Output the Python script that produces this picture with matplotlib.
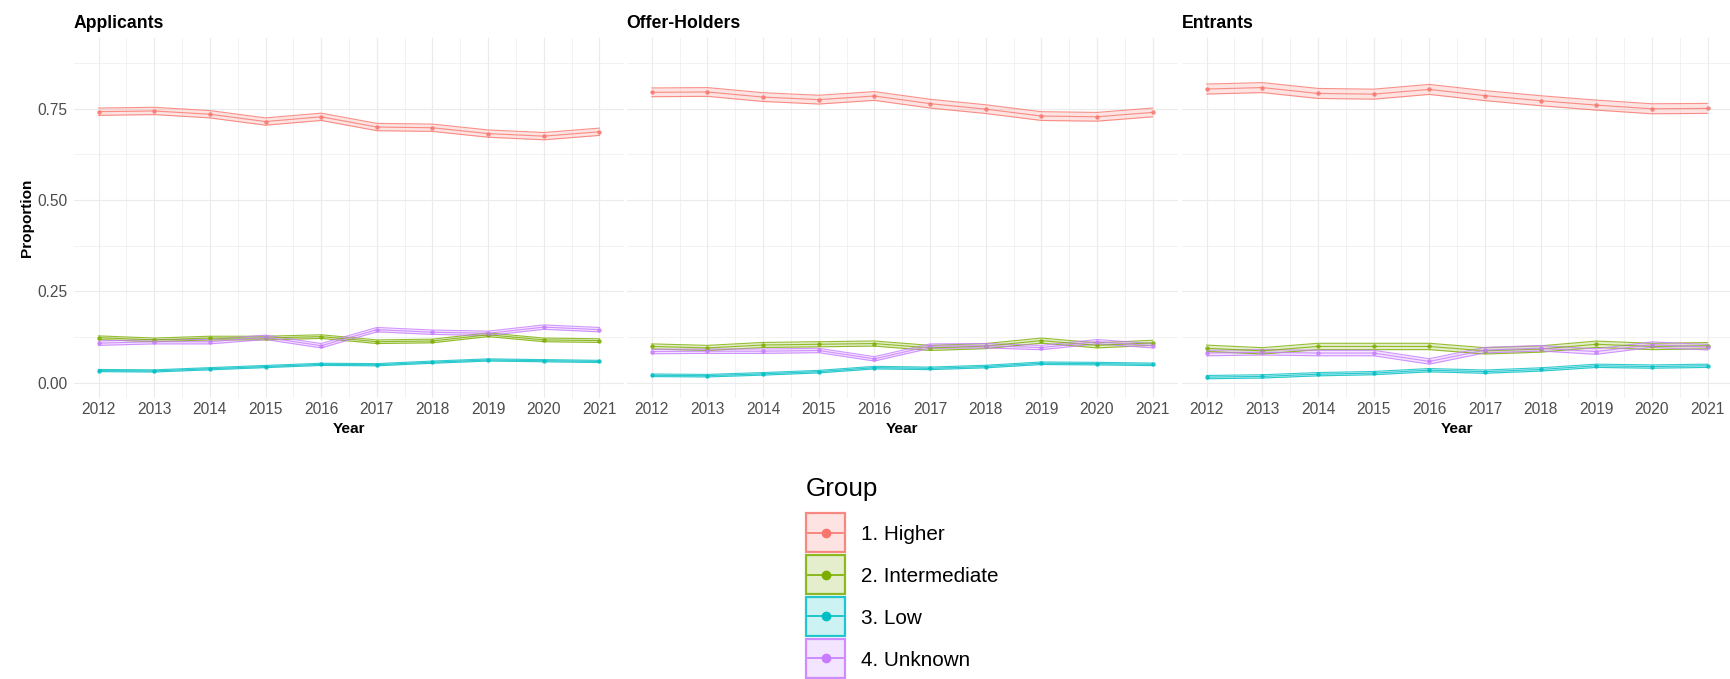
import matplotlib.pyplot as plt
from matplotlib.patches import Rectangle

plt.rcParams["font.family"] = ["Liberation Sans", "DejaVu Sans"]

W, H = 1731, 679

years = list(range(2012, 2022))
stages = ["Applicants", "Offer-Holders", "Entrants"]
groups = ["1. Higher", "2. Intermediate", "3. Low", "4. Unknown"]
colours = ["#F8766D", "#7CAE00", "#00BFC4", "#C77CFF"]

# proportion of each group per year
app_higher = [0.742, 0.744, 0.735, 0.715, 0.728, 0.700, 0.698, 0.682, 0.675, 0.687]
app_inter = [0.123, 0.117, 0.122, 0.122, 0.126, 0.112, 0.114, 0.131, 0.117, 0.115]
app_low = [0.033, 0.032, 0.038, 0.044, 0.050, 0.049, 0.056, 0.062, 0.060, 0.058]
app_unknown = [0.108, 0.112, 0.112, 0.124, 0.101, 0.145, 0.138, 0.135, 0.152, 0.145]

off_higher = [0.795, 0.796, 0.782, 0.775, 0.785, 0.764, 0.749, 0.730, 0.728, 0.740]
off_inter = [0.099, 0.095, 0.103, 0.105, 0.107, 0.095, 0.100, 0.115, 0.102, 0.109]
off_low = [0.020, 0.019, 0.024, 0.030, 0.041, 0.039, 0.044, 0.053, 0.052, 0.050]
off_unknown = [0.085, 0.086, 0.086, 0.088, 0.065, 0.100, 0.101, 0.096, 0.112, 0.101]

ent_higher = [0.804, 0.808, 0.792, 0.790, 0.803, 0.786, 0.772, 0.760, 0.750, 0.751]
ent_inter = [0.094, 0.087, 0.099, 0.099, 0.099, 0.087, 0.092, 0.105, 0.099, 0.101]
ent_low = [0.015, 0.017, 0.023, 0.026, 0.034, 0.030, 0.036, 0.046, 0.044, 0.046]
ent_unknown = [0.081, 0.083, 0.081, 0.081, 0.058, 0.089, 0.094, 0.085, 0.104, 0.097]

# half-width of the confidence band, per group
app_ci = [0.010, 0.005, 0.003, 0.006]
off_ci = [0.012, 0.007, 0.0035, 0.006]
ent_ci = [0.0137, 0.0087, 0.0045, 0.0075]

data = {
    "Applicants": ([app_higher, app_inter, app_low, app_unknown], app_ci),
    "Offer-Holders": ([off_higher, off_inter, off_low, off_unknown], off_ci),
    "Entrants": ([ent_higher, ent_inter, ent_low, ent_unknown], ent_ci),
}

fig = plt.figure(figsize=(W / 100, H / 100), dpi=100)
fig.patch.set_facecolor("white")


def fx(px):
    return px / W


def fy(py):
    return 1 - py / H


panel_left = [73.5, 626.7, 1181.6]
panel_w = 551
panel_top, panel_bot = 38.3, 398.3

for i, stage in enumerate(stages):
    ax = fig.add_axes([fx(panel_left[i]), fy(panel_bot), panel_w / W,
                       (panel_bot - panel_top) / H])
    series, ci = data[stage]
    for vals, hw, col in zip(series, ci, colours):
        lo = [v - hw for v in vals]
        hi = [v + hw for v in vals]
        ax.fill_between(years, lo, hi, color=col, alpha=0.2, lw=0, zorder=2)
        ax.plot(years, lo, color=col, lw=0.8, alpha=0.8, zorder=3)
        ax.plot(years, hi, color=col, lw=0.8, alpha=0.8, zorder=3)
    for vals, col in zip(series, colours):
        ax.plot(years, vals, color=col, lw=0.8, alpha=0.8, zorder=4)
        ax.plot(years, vals, "o", color=col, ms=3.2, mew=0, alpha=0.85, zorder=5)

    ax.set_xlim(2011.55, 2021.45)
    ax.set_ylim(-0.043, 0.943)
    ax.set_xticks(years)
    ax.set_xticks([y + 0.5 for y in years[:-1]], minor=True)
    ax.set_yticks([0, 0.25, 0.5, 0.75])
    ax.set_yticklabels(["0.00", "0.25", "0.50", "0.75"])
    ax.set_yticks([0.125, 0.375, 0.625, 0.875], minor=True)
    ax.grid(which="major", color="#EBEBEB", lw=0.85)
    ax.grid(which="minor", color="#EBEBEB", lw=0.45)
    ax.set_axisbelow(True)
    for s in ax.spines.values():
        s.set_visible(False)
    ax.tick_params(which="both", length=0)
    ax.tick_params(axis="x", labelsize=11.2, labelcolor="#4D4D4D", pad=3)
    ax.tick_params(axis="y", labelsize=11.2, labelcolor="#4D4D4D", pad=4.5)
    if i > 0:
        ax.tick_params(axis="y", labelleft=False)

    fig.text(fx(panel_left[i]), fy(27.5), stage, fontsize=12.7,
             fontweight="bold", ha="left", va="baseline")
    fig.text(fx(panel_left[i] + panel_w / 2), fy(433), "Year", fontsize=11.1,
             fontweight="bold", ha="center", va="baseline")

fig.text(fx(26.7), fy(217.5), "Proportion", fontsize=11.1, fontweight="bold",
         rotation=90, ha="center", va="center")

# legend
lg = fig.add_axes([0, 0, 1, 1])
lg.set_xlim(0, W)
lg.set_ylim(H, 0)
lg.axis("off")
lg.text(806, 496, "Group", fontsize=18.7, ha="left", va="baseline")
key_centres = [532.5, 574.5, 616.0, 658.0]
for name, col, yc in zip(groups, colours, key_centres):
    lg.add_patch(Rectangle((806.5, yc - 19.5), 38.5, 39, facecolor=col,
                           alpha=0.2, lw=0))
    lg.add_patch(Rectangle((806.5, yc - 19.5), 38.5, 39, facecolor="none",
                           edgecolor=col, lw=1.6, alpha=0.85))
    lg.plot([808, 843.5], [yc, yc], color=col, lw=1.2)
    lg.plot([825.7], [yc], "o", color=col, ms=7, mew=0)
    lg.text(861, yc + 8, name, fontsize=14.9, ha="left", va="baseline")

fig.savefig("out.png", dpi=100, facecolor="white")
